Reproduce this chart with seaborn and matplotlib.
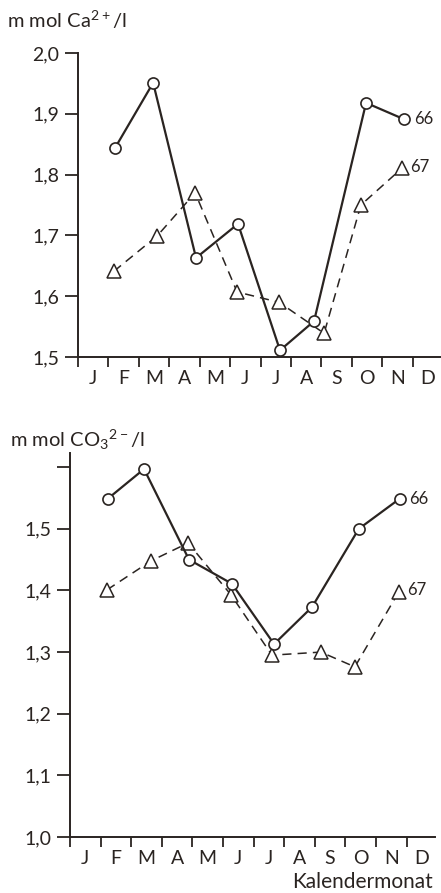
import numpy as np
import pandas as pd
import matplotlib
matplotlib.use('Agg')
import matplotlib.pyplot as plt
import seaborn as sns

# month labels (ticks sit between month boundaries)
months = ['J', 'F', 'M', 'A', 'M', 'J', 'J', 'A', 'S', 'O', 'N', 'D']

# Ca2+ (mmol/l), x = sampling time in months from 1 Jan
ca_x66 = [1.22, 2.47, 3.88, 5.26, 6.64, 7.76, 9.47, 10.72]
ca_66 = [1.844, 1.951, 1.663, 1.719, 1.511, 1.559, 1.918, 1.891]
ca_x67 = [1.18, 2.60, 3.85, 5.23, 6.61, 8.09, 9.30, 10.66]
ca_67 = [1.641, 1.699, 1.770, 1.607, 1.590, 1.539, 1.750, 1.811]

# CO3 2- (mmol/l)
co_x66 = [1.24, 2.42, 3.89, 5.29, 6.67, 7.91, 9.44, 10.78]
co_66 = [1.549, 1.597, 1.450, 1.411, 1.313, 1.373, 1.500, 1.549]
co_x67 = [1.21, 2.65, 3.86, 5.26, 6.60, 8.20, 9.31, 10.75]
co_67 = [1.401, 1.448, 1.477, 1.393, 1.295, 1.300, 1.276, 1.398]

ca_ticks = [1.5, 1.6, 1.7, 1.8, 1.9, 2.0]
ca_ticklabels = ['1,5', '1,6', '1,7', '1,8', '1,9', '2,0']
co_ticks = [1.0, 1.1, 1.2, 1.3, 1.4, 1.5, 1.6]
co_ticklabels = ['1,0', '1,1', '1,2', '1,3', '1,4', '1,5', '']

sns.set_style('ticks')
plt.rcParams['font.family'] = ['Lato', 'DejaVu Sans']
plt.rcParams['mathtext.default'] = 'regular'

ink = '#2a2421'
W, H = 441, 893
fig = plt.figure(figsize=(W / 100, H / 100), dpi=100)
fig.patch.set_facecolor('white')

# axes positions in pixels: left, top, right, bottom
ax1 = fig.add_axes([78 / W, 1 - 357 / H, (440 - 78) / W, (357 - 53) / H])
ax2 = fig.add_axes([70 / W, 1 - 837 / H, (435 - 70) / W, (837 - 453) / H])


def draw(ax, x66, y66, x67, y67):
    df66 = pd.DataFrame({'x': x66, 'y': y66})
    df67 = pd.DataFrame({'x': x67, 'y': y67})
    sns.lineplot(data=df67, x='x', y='y', ax=ax, color=ink, linewidth=1.1,
                 linestyle=(0, (6, 4)), marker='^', markersize=10.5,
                 markerfacecolor='white', markeredgecolor=ink,
                 markeredgewidth=1.1, zorder=2)
    sns.lineplot(data=df66, x='x', y='y', ax=ax, color=ink, linewidth=1.6,
                 marker='o', markersize=8, markerfacecolor='white',
                 markeredgecolor=ink, markeredgewidth=1.2, zorder=3)
    ax.annotate('66', (x66[-1], y66[-1]), xytext=(7, 0), textcoords='offset points',
                fontsize=12, color=ink, va='center', ha='left')
    ax.annotate('67', (x67[-1], y67[-1]), xytext=(6, 1), textcoords='offset points',
                fontsize=12, color=ink, va='center', ha='left')
    ax.set_xlabel('')
    ax.set_ylabel('')
    ax.set_facecolor('white')
    for s in ['top', 'right']:
        ax.spines[s].set_visible(False)
    for s in ['left', 'bottom']:
        ax.spines[s].set_color(ink)
        ax.spines[s].set_linewidth(1.4)
    ax.set_xticks(np.arange(0, 13))
    ax.set_xticklabels([])
    ax.set_xticks(np.arange(0.5, 12, 1), minor=True)
    ax.set_xticklabels(months, minor=True)
    ax.tick_params(axis='x', which='major', direction='out', length=7.5,
                   width=1.3, color=ink)
    ax.tick_params(axis='x', which='minor', length=0, pad=9, labelsize=14,
                   labelcolor=ink)
    ax.tick_params(axis='y', direction='out', length=9.5, width=1.3, color=ink,
                   labelsize=14, labelcolor=ink, pad=4)


draw(ax1, ca_x66, ca_66, ca_x67, ca_67)
ax1.set_xlim(0, 11.9)
ax1.set_ylim(1.5, 2.0)
ax1.set_yticks(ca_ticks)
ax1.set_yticklabels(ca_ticklabels)

draw(ax2, co_x66, co_66, co_x67, co_67)
ax2.set_xlim(0, 11.93)
ax2.set_ylim(1.0, 1.623)
ax2.set_yticks(co_ticks)
ax2.set_yticklabels(co_ticklabels)

fig.text(7 / W, 1 - 20 / H, 'm mol Ca$^{2+}$/l', fontsize=14.5, color=ink,
         ha='left', va='center')
fig.text(10 / W, 1 - 440 / H, 'm mol CO$_3$$^{2-}$/l', fontsize=14.5, color=ink,
         ha='left', va='center')
fig.text(433 / W, 1 - 882 / H, 'Kalendermonat', fontsize=15, color=ink,
         ha='right', va='center')

fig.savefig('out.png', dpi=100, facecolor='white')
